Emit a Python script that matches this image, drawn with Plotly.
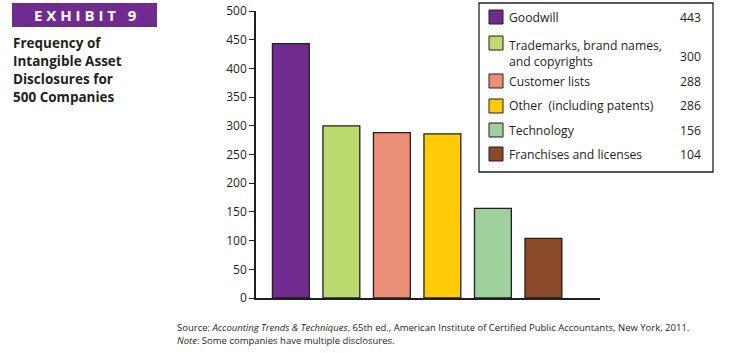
import plotly.graph_objects as go

categories = ["Goodwill", "Trademarks, brand names,<br>and copyrights", "Customer lists",
              "Other  (including patents)", "Technology", "Franchises and licenses"]
values = [443, 300, 288, 286, 156, 104]
colors = ["#6F2B8E", "#BDDA6F", "#EB8F76", "#FFCA08", "#9ED19B", "#8A4A27"]
y_ticks = [0, 50, 100, 150, 200, 250, 300, 350, 400, 450, 500]
title_lines = ["Frequency of", "Intangible Asset", "Disclosures for", "500 Companies"]
exhibit_label = "E X H I B I T   9"
source_line = "Source: <i>Accounting Trends &amp; Techniques</i>, 65th ed., American Institute of Certified Public Accountants, New York, 2011."
note_line = "<i>Note</i>: Some companies have multiple disclosures."

W, H = 753, 353
L, R_EDGE, T, B_EDGE = 256, 600, 11, 298

def px(x):
    return (x - L) / (R_EDGE - L)

def py(y):
    return (B_EDGE - y) / (B_EDGE - T)

FONT = "Open Sans"
TXT = "#231F20"

fig = go.Figure()
fig.add_trace(go.Bar(
    x=list(range(len(values))), y=values,
    marker=dict(color=colors, line=dict(color="#231F20", width=1.3)),
    width=0.73, showlegend=False, hoverinfo="skip"))

shapes = []
annotations = []

# Exhibit box
shapes.append(dict(type="rect", xref="paper", yref="paper",
                   x0=px(12), x1=px(157), y0=py(27), y1=py(3),
                   fillcolor="#702B8F", line=dict(width=0), layer="above"))
annotations.append(dict(xref="paper", yref="paper", x=px(85), y=py(15),
                        text="<b>" + exhibit_label + "</b>", showarrow=False,
                        xanchor="center", yanchor="middle",
                        font=dict(family=FONT, size=15, color="white")))
# Title
for i, line in enumerate(title_lines):
    annotations.append(dict(xref="paper", yref="paper", x=px(11), y=py(43 + 18 * i),
                            text="<b>" + line + "</b>", showarrow=False,
                            xanchor="left", yanchor="middle",
                            font=dict(family=FONT, size=13.5, color=TXT)))

# Legend box
shapes.append(dict(type="rect", xref="paper", yref="paper",
                   x0=px(479), x1=px(713), y0=py(172), y1=py(3),
                   fillcolor="white", line=dict(color="#231F20", width=1.3), layer="above"))
row_y = [17, 43, 81, 106, 130, 154]
for i, (lab, val, col) in enumerate(zip(categories, values, colors)):
    yc = row_y[i]
    shapes.append(dict(type="rect", xref="paper", yref="paper",
                       x0=px(489), x1=px(503), y0=py(yc + 7), y1=py(yc - 7),
                       fillcolor=col, line=dict(color="#231F20", width=1), layer="above"))
    nlines = lab.count("<br>") + 1
    if nlines == 1:
        annotations.append(dict(xref="paper", yref="paper", x=px(507), y=py(yc),
                                text=lab, showarrow=False, xanchor="left", yanchor="middle",
                                align="left", font=dict(family=FONT, size=12.2, color=TXT)))
        vy = yc
    else:
        annotations.append(dict(xref="paper", yref="paper", x=px(507), y=py(yc - 8),
                                text=lab, showarrow=False, xanchor="left", yanchor="top",
                                align="left", font=dict(family=FONT, size=12.2, color=TXT)))
        vy = yc + 13
    annotations.append(dict(xref="paper", yref="paper", x=px(703), y=py(vy),
                            text=str(val), showarrow=False, xanchor="right", yanchor="middle",
                            font=dict(family=FONT, size=12.2, color=TXT)))

# Source
annotations.append(dict(xref="paper", yref="paper", x=px(175), y=py(327),
                        text=source_line, showarrow=False, xanchor="left", yanchor="middle",
                        font=dict(family=FONT, size=9.5, color=TXT)))
annotations.append(dict(xref="paper", yref="paper", x=px(175), y=py(341),
                        text=note_line, showarrow=False, xanchor="left", yanchor="middle",
                        font=dict(family=FONT, size=9.5, color=TXT)))

fig.update_layout(
    width=W, height=H,
    margin=dict(l=L, r=W - R_EDGE, t=T, b=H - B_EDGE, pad=0, autoexpand=False),
    paper_bgcolor="white", plot_bgcolor="white",
    showlegend=False,
    xaxis=dict(range=[-0.69, 6.12], showticklabels=False, ticks="", showgrid=False,
               zeroline=False, showline=True, linecolor="#231F20", linewidth=1.5,
               automargin=False),
    yaxis=dict(range=[0, 500], tickvals=y_ticks, ticks="outside", ticklen=5,
               tickcolor="#231F20", tickwidth=1.2, showgrid=False, zeroline=False,
               showline=True, linecolor="#231F20", linewidth=1.5, automargin=False,
               tickfont=dict(family=FONT, size=12, color=TXT)),
    shapes=shapes, annotations=annotations,
)

fig.write_html("out.html")
